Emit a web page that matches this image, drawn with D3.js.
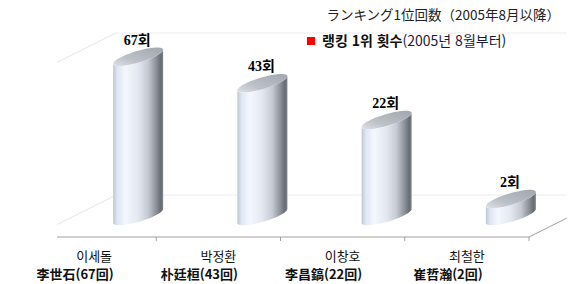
<html lang="ko">
<head>
<meta charset="utf-8">
<script src="https://cdnjs.cloudflare.com/ajax/libs/d3/7.7.0/d3.min.js"></script>
<style>
html, body { margin: 0; padding: 0; background: #fff; }
svg { display: block; }
</style>
</head>
<body>
<svg width="585" height="284"></svg>
<script>
const names = ['이세돌', '박정환', '이창호', '최철한'];
const hanja = ['李世石(67回)', '朴廷桓(43回)', '李昌鎬(22回)', '崔哲瀚(2回)'];
const counts = [67, 43, 22, 2];
const gridValues = [0, 70];
const title = 'ランキング1位回数（2005年8月以降）';
const legendBold = '랭킹 1위 횟수';
const legendRest = '(2005년 8월부터)';

const svg = d3.select('svg');
const defs = svg.append('defs');

// floor / projection
const floorY = 237;
const depth = { x: 84, y: -42 };
const x = d3.scaleBand().domain(names).range([32, 529]);
const h = d3.scaleSymlog().constant(7).domain([0, 70]).range([0, 162]);
const backRight = 567;

defs.append('clipPath').attr('id', 'plot')
  .append('rect').attr('x', 57).attr('y', 0).attr('width', 528).attr('height', 284);

const bodyGrad = defs.append('linearGradient').attr('id', 'body');
[[0, '#bfc6d3'], [0.08, '#dfe6f3'], [0.25, '#f3f8ff'], [0.5, '#e3e7ef'],
 [0.7, '#c5c9d1'], [0.85, '#90949c'], [0.95, '#686c74'], [1, '#7c8088']]
  .forEach(s => bodyGrad.append('stop').attr('offset', s[0]).attr('stop-color', s[1]));

const topGrad = defs.append('linearGradient').attr('id', 'capGrad')
  .attr('x1', 0).attr('y1', 1).attr('x2', 1).attr('y2', 0);
[[0, '#dfe2e7'], [0.35, '#bcc0c7'], [1, '#a2a6ae']]
  .forEach(s => topGrad.append('stop').attr('offset', s[0]).attr('stop-color', s[1]));

const grid = svg.append('g').attr('clip-path', 'url(#plot)');

// left wall + back wall gridlines
gridValues.forEach(v => {
  const y = floorY - h(v);
  grid.append('line')
    .attr('x1', 32).attr('y1', y)
    .attr('x2', 32 + depth.x).attr('y2', y + depth.y)
    .attr('stroke', '#e6e6e6');
  grid.append('line')
    .attr('x1', 32 + depth.x).attr('y1', y + depth.y)
    .attr('x2', backRight).attr('y2', y + depth.y)
    .attr('stroke', '#ececec');
});

// floor front edge, right edge and ticks
grid.append('line')
  .attr('x1', 32).attr('y1', floorY).attr('x2', 529).attr('y2', floorY)
  .attr('stroke', '#a0a0a0');
grid.append('line')
  .attr('x1', 529).attr('y1', floorY)
  .attr('x2', 529 + depth.x * 0.45).attr('y2', floorY + depth.y * 0.45)
  .attr('stroke', '#a0a0a0');
grid.selectAll('.tick')
  .data(names)
  .enter()
  .append('line')
  .attr('x1', d => x(d) + x.bandwidth()).attr('x2', d => x(d) + x.bandwidth())
  .attr('y1', floorY).attr('y2', floorY + 4)
  .attr('stroke', '#a0a0a0');

// cylinders
const rx = 25, ry = 6, tilt = 7;
const pt = (cx, cy, t) => [cx + rx * Math.cos(t), cy - tilt * Math.cos(t) + ry * Math.sin(t)];
const arc = (cx, cy, t0, t1) => d3.range(0, 41).map(i => pt(cx, cy, t0 + (t1 - t0) * i / 40));

const data = names.map((n, i) => ({ name: n, value: counts[i] }));

const cyl = svg.selectAll('.cyl')
  .data(data)
  .enter()
  .append('g')
  .classed('cyl', true);

cyl.each(function(d) {
  const g = d3.select(this);
  const cx = x(d.name) + x.bandwidth() / 2 + depth.x / 2 + 2;
  const cyBot = floorY + depth.y / 2;
  const cyTop = cyBot - h(d.value);
  const line = d3.line();
  const pts = [].concat(
    [[cx - rx, cyTop + tilt]],
    arc(cx, cyBot, Math.PI, 0),
    [[cx + rx, cyTop - tilt]],
    arc(cx, cyTop, 0, Math.PI)
  );
  g.append('path').attr('d', line(pts) + 'Z').attr('fill', 'url(#body)');
  g.append('path')
    .attr('d', line(arc(cx, cyTop, 0, 2 * Math.PI)) + 'Z')
    .attr('fill', 'url(#capGrad)');
  g.append('text')
    .attr('x', cx - 1)
    .attr('y', cyTop - 12)
    .attr('text-anchor', 'middle')
    .style('font-family', '"Liberation Serif", "Noto Sans CJK KR", serif')
    .style('font-weight', 'bold')
    .style('font-size', '14px')
    .attr('fill', '#000')
    .text(d.value + '회');
});

// category labels
svg.selectAll('.cat1')
  .data(names)
  .enter()
  .append('text')
  .attr('x', d => x(d) + x.bandwidth() / 2)
  .attr('y', 261)
  .attr('text-anchor', 'middle')
  .style('font-family', '"Noto Sans CJK KR", sans-serif')
  .style('font-size', '13px')
  .attr('fill', '#111')
  .text(d => d);

svg.selectAll('.cat2')
  .data(hanja)
  .enter()
  .append('text')
  .attr('x', (d, i) => x(names[i]) + x.bandwidth() / 2 - 19)
  .attr('y', 279)
  .attr('text-anchor', 'middle')
  .style('font-family', '"Noto Sans CJK KR", sans-serif')
  .style('font-weight', 'bold')
  .style('font-size', '13px')
  .attr('fill', '#111')
  .text(d => d);

// title and legend
svg.append('text')
  .attr('x', 560).attr('y', 20)
  .attr('text-anchor', 'end')
  .style('font-family', '"Noto Sans CJK JP", sans-serif')
  .style('font-size', '13.5px')
  .attr('fill', '#222')
  .text(title);

svg.append('rect')
  .attr('x', 307).attr('y', 37).attr('width', 8).attr('height', 8)
  .attr('fill', '#ff0000');

const lg = svg.append('text')
  .attr('x', 322).attr('y', 46)
  .style('font-family', '"Noto Sans CJK KR", sans-serif')
  .style('font-size', '14px')
  .attr('fill', '#111');
lg.append('tspan').style('font-weight', 'bold').text(legendBold);
lg.append('tspan').attr('fill', '#1a1a3a').text(legendRest);
</script>
</body>
</html>
